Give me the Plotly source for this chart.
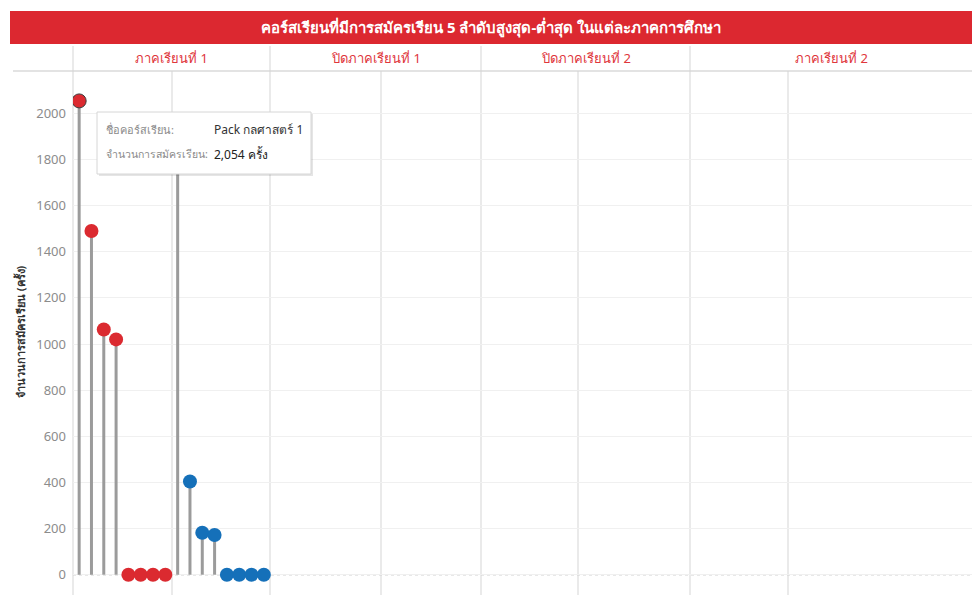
import plotly.graph_objects as go

# ---------------- data ----------------
title_text = "คอร์สเรียนที่มีการสมัครเรียน 5 ลำดับสูงสุด-ต่ำสุด ในแต่ละภาคการศึกษา"
semesters = ["ภาคเรียนที่ 1", "ปิดภาคเรียนที่ 1", "ปิดภาคเรียนที่ 2", "ภาคเรียนที่ 2"]
top_values = [2054, 1490, 1063, 1020, 0, 0, 0, 0]      # red group (semester 1)
bottom_values = [1900, 404, 182, 172, 0, 0, 0, 0]     # blue group (semester 1)
y_ticks = [0, 200, 400, 600, 800, 1000, 1200, 1400, 1600, 1800, 2000]
y_title = "จำนวนการสมัครเรียน (ครั้ง)"
tip_course = "Pack กลศาสตร์ 1"
tip_count = "2,054 ครั้ง"

# ---------------- layout geometry (pixels) ----------------
W, H = 979, 595
PX_L, PX_R, PY_T, PY_B = 73, 972, 70, 595
panel_edges_px = [73, 270, 481, 690]
sub_div_px = [172, 381, 578, 788]
panel_right_px = [270, 481, 690, 972]
slot_w = (270 - 73) / 16.0

def fx(px):
    return (px - PX_L) / (PX_R - PX_L)

def fy(py):
    return (PY_B - py) / (PY_B - PY_T)

RED = "#db2a30"
BLUE = "#1570b9"
STEM = "#9b9b9b"
FONT = "Tahoma, 'Noto Sans', 'DejaVu Sans', sans-serif"

fig = go.Figure()

def add_group(values, start_slot, color, outline_first):
    xs = [start_slot + i + 0.5 for i in range(len(values))]
    sx, sy = [], []
    for x, v in zip(xs, values):
        if v > 0:
            sx += [x, x, None]
            sy += [0, v, None]
    fig.add_trace(go.Scatter(x=sx, y=sy, mode="lines",
                             line=dict(color=STEM, width=3),
                             hoverinfo="skip", showlegend=False))
    lw = [1.0 if (outline_first and i == 0) else 0 for i in range(len(values))]
    fig.add_trace(go.Scatter(x=xs, y=values, mode="markers",
                             marker=dict(color=color, size=14,
                                         line=dict(color="#3a3a3a", width=lw)),
                             showlegend=False,
                             hovertemplate="จำนวนการสมัครเรียน: %{y:,} ครั้ง<extra></extra>"))

add_group(top_values, 0, RED, True)
add_group(bottom_values, 8, BLUE, False)

shapes = []
# title bar
shapes.append(dict(type="rect", xref="paper", yref="paper",
                   x0=fx(10), x1=fx(972), y0=fy(44), y1=fy(11),
                   fillcolor="#dc2830", line=dict(width=0), layer="below"))
# header bottom line
shapes.append(dict(type="line", xref="paper", yref="paper",
                   x0=fx(13), x1=fx(972), y0=fy(71), y1=fy(71),
                   line=dict(color="#e3e3e3", width=2), layer="below"))
# panel separators
for px in panel_edges_px:
    shapes.append(dict(type="line", xref="paper", yref="paper",
                       x0=fx(px), x1=fx(px), y0=0, y1=fy(46),
                       line=dict(color="#d5d5d5", width=1), layer="below"))
for px in sub_div_px:
    shapes.append(dict(type="line", xref="paper", yref="paper",
                       x0=fx(px), x1=fx(px), y0=0, y1=fy(71),
                       line=dict(color="#d5d5d5", width=1), layer="below"))
# dotted zero line
shapes.append(dict(type="line", xref="paper", yref="y",
                   x0=0, x1=1, y0=0, y1=0,
                   line=dict(color="#d2d2d2", width=1.5, dash="dot"), layer="below"))
# tooltip (shadow + box)
shapes.append(dict(type="rect", xref="paper", yref="paper",
                   x0=fx(99), x1=fx(313), y0=fy(176), y1=fy(114),
                   fillcolor="rgba(0,0,0,0.10)", line=dict(width=0)))
shapes.append(dict(type="rect", xref="paper", yref="paper",
                   x0=fx(97), x1=fx(311), y0=fy(174), y1=fy(112),
                   fillcolor="white", line=dict(color="#d6d6d6", width=1)))

annotations = []
annotations.append(dict(text="<b>" + title_text + "</b>", xref="paper", yref="paper",
                        x=fx(491), y=fy(27.5), showarrow=False,
                        font=dict(color="white", size=15, family=FONT),
                        xanchor="center", yanchor="middle"))
for name, l, r in zip(semesters, panel_edges_px, panel_right_px):
    annotations.append(dict(text=name, xref="paper", yref="paper",
                            x=fx((l + r) / 2), y=fy(58), showarrow=False,
                            font=dict(color="#e0363c", size=13, family=FONT),
                            xanchor="center", yanchor="middle"))
annotations.append(dict(text="<b>" + y_title + "</b>", xref="paper", yref="paper",
                        x=fx(20), y=fy(332), showarrow=False, textangle=-90,
                        font=dict(color="#333333", size=11, family=FONT),
                        xanchor="center", yanchor="middle"))
# tooltip texts
for txt, px, py, col, sz in [("ชื่อคอร์สเรียน:", 104, 129, "#8a8a8a", 11),
                             (tip_course, 212, 129, "#333333", 12),
                             ("จำนวนการสมัครเรียน:", 104, 154, "#8a8a8a", 10.5),
                             (tip_count, 212, 154, "#222222", 12)]:
    annotations.append(dict(text=txt, xref="paper", yref="paper",
                            x=fx(px), y=fy(py), showarrow=False,
                            font=dict(color=col, size=sz, family=FONT),
                            xanchor="left", yanchor="middle"))

fig.update_layout(
    width=W, height=H,
    margin=dict(l=PX_L, r=W - PX_R, t=PY_T, b=H - PY_B, pad=0),
    paper_bgcolor="white", plot_bgcolor="white",
    font=dict(family=FONT),
    shapes=shapes, annotations=annotations,
    hovermode="closest",
    xaxis=dict(range=[0, (PX_R - PX_L) / slot_w], showgrid=False, zeroline=False,
               showticklabels=False, showline=False, fixedrange=True),
    yaxis=dict(range=[-88, 2188], tickvals=y_ticks, showgrid=True,
               gridcolor="#f0f0f0", gridwidth=1, zeroline=False, showline=False,
               ticks="", ticklabelstandoff=6,
               tickfont=dict(color="#8c8c8c", size=13, family=FONT),
               fixedrange=True),
)

fig.write_html("out.html")
